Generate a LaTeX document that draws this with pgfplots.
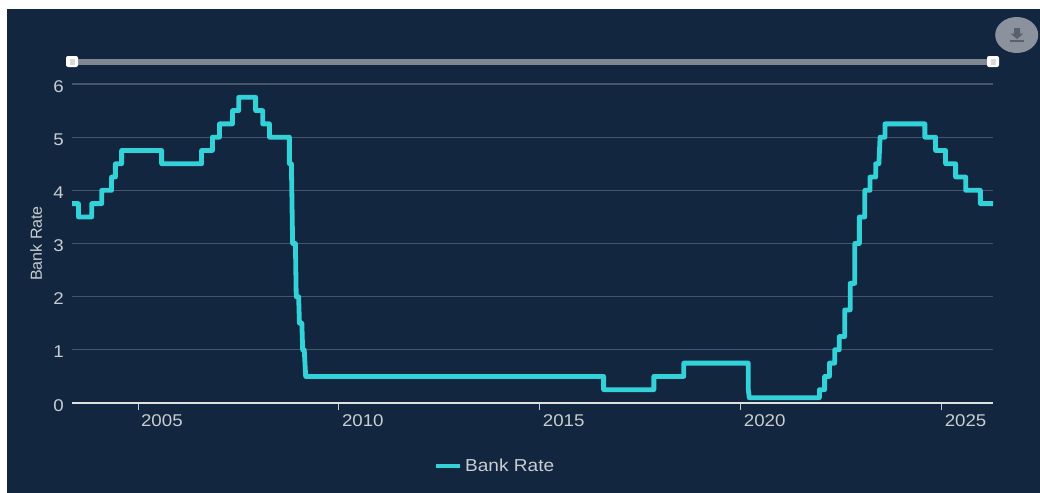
\documentclass[border=0pt]{standalone}
\usepackage{fontspec}
\setmainfont[FakeStretch=1.1]{Liberation Sans}
\newfontfamily\labelfont{Liberation Sans}
\usepackage{pgfplots}
\pgfplotsset{compat=1.18}
\usepackage{pgfplotstable}

\definecolor{panel}{HTML}{13263F}
\definecolor{ratecol}{HTML}{33D2D9}
\definecolor{gridcol}{HTML}{46566A}
\definecolor{labelcol}{HTML}{C9CDD1}
\definecolor{barcol}{HTML}{7F8891}
\definecolor{btncol}{HTML}{8B929D}
\definecolor{btnicon}{HTML}{59616E}

% Bank Rate steps: decimal year, rate in percent
\pgfplotstableread{
year rate
2003.36 3.75
2003.52 3.75
2003.52 3.50
2003.85 3.50
2003.85 3.75
2004.10 3.75
2004.10 4.00
2004.345 4.00
2004.345 4.25
2004.44 4.25
2004.44 4.50
2004.595 4.50
2004.595 4.75
2005.59 4.75
2005.59 4.50
2006.585 4.50
2006.585 4.75
2006.855 4.75
2006.855 5.00
2007.03 5.00
2007.03 5.25
2007.355 5.25
2007.355 5.50
2007.51 5.50
2007.51 5.75
2007.93 5.75
2007.93 5.50
2008.105 5.50
2008.105 5.25
2008.275 5.25
2008.275 5.00
2008.77 5.00
2008.77 4.50
2008.82 4.50
2008.85 3.00
2008.92 3.00
2008.94 2.00
2009.00 2.00
2009.02 1.50
2009.08 1.50
2009.10 1.00
2009.14 1.00
2009.175 0.50
2016.59 0.50
2016.59 0.25
2017.84 0.25
2017.84 0.50
2018.585 0.50
2018.585 0.75
2020.19 0.75
2020.19 0.25
2020.215 0.10
2021.96 0.10
2021.96 0.25
2022.09 0.25
2022.09 0.50
2022.21 0.50
2022.21 0.75
2022.34 0.75
2022.34 1.00
2022.455 1.00
2022.455 1.25
2022.59 1.25
2022.59 1.75
2022.725 1.75
2022.725 2.25
2022.84 2.25
2022.84 3.00
2022.955 3.00
2022.955 3.50
2023.09 3.50
2023.09 4.00
2023.22 4.00
2023.22 4.25
2023.36 4.25
2023.36 4.50
2023.44 4.50
2023.47 5.00
2023.59 5.00
2023.59 5.25
2024.585 5.25
2024.585 5.00
2024.85 5.00
2024.85 4.75
2025.10 4.75
2025.10 4.50
2025.35 4.50
2025.35 4.25
2025.60 4.25
2025.60 4.00
2025.965 4.00
2025.965 3.75
2026.28 3.75
}\bankrate

\begin{document}
\begin{tikzpicture}
% one unit of this scope is one pixel, measured from the top left corner
\begin{scope}[x=0.75pt,y=-0.75pt]
  \useasboundingbox (0,0) rectangle (1040,493);
  \fill[white] (0,0) rectangle (1040,493);
  \fill[panel] (7,9) rectangle (1040,493);
\end{scope}

\begin{axis}[
  at={(54pt,-302.25pt)}, anchor=south west,
  scale only axis, width=690.75pt, height=239.25pt,
  xmin=2003.36, xmax=2026.28, ymin=0, ymax=6,
  axis x line*=bottom, axis y line*=left,
  y axis line style={draw=none},
  x axis line style={draw=white!88!black, line width=1.5pt, -},
  xtick={2005,2010,2015,2020,2025},
  ytick={0,1,2,3,4,5,6},
  /pgf/number format/.cd, assume math mode=true, 1000 sep={},
  /pgfplots/.cd,
  ymajorgrids, grid style={gridcol, line width=0.8pt},
  tick align=outside,
  major tick length=5pt,
  x tick style={draw=labelcol, line width=0.6pt},
  y tick style={draw=none},
  xticklabel style={anchor=north, xshift=18pt, yshift=-3.7pt, inner sep=0pt, font=\fontsize{12.75}{14}\selectfont, text=labelcol},
  yticklabel style={anchor=east, xshift=-1pt, yshift=-1.7pt, inner sep=0pt, font=\fontsize{12.75}{14}\selectfont, text=labelcol},
  ylabel={\labelfont Bank Rate},
  every axis y label/.style={at={(axis description cs:-0.039,0.5)}, anchor=center, rotate=90, font=\fontsize{12}{14}\selectfont, text=labelcol},
  legend style={at={(0.46,-0.197)}, anchor=center, draw=none, fill=none,
    font=\fontsize{13}{14}\selectfont, text=labelcol, inner sep=0pt,
    legend cell align=left},
  legend image code/.code={\draw[#1, line width=3pt] (0pt,0pt) -- (18pt,0pt);},
]
\addplot[ratecol, line width=3.6pt, line join=round] table[x=year,y=rate] {\bankrate};
\addlegendentry{Bank Rate}
\end{axis}

% range slider and download button above the plot area
\begin{scope}[x=0.75pt,y=-0.75pt]
  \fill[barcol] (72,59) rectangle (993,65);
  \foreach \hx in {72,993}{
    \fill[white, rounded corners=1.5pt] (\hx-6,56) rectangle (\hx+6,67);
    \fill[white!85!black] (\hx-2.5,59) rectangle (\hx+2.5,64.5);
  }
  \fill[btncol] (1016.7,35) ellipse [x radius=21.5, y radius=18];
  \fill[btnicon] (1014,28) -- (1020,28) -- (1020,33.5) -- (1023.5,33.5) -- (1017,39) -- (1010.5,33.5) -- (1014,33.5) -- cycle;
  \fill[btnicon] (1010,40) rectangle (1024,41.5);
\end{scope}
\end{tikzpicture}
\end{document}
